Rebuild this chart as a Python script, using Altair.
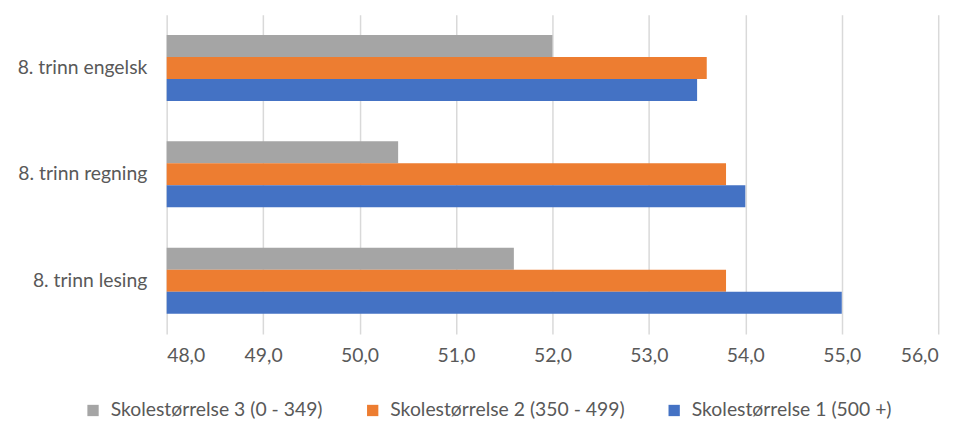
import altair as alt
import pandas as pd

categories = ["8. trinn engelsk", "8. trinn regning", "8. trinn lesing"]
series = ["Skolestørrelse 3 (0 - 349)", "Skolestørrelse 2 (350 - 499)", "Skolestørrelse 1 (500 +)"]
colors = ["#A5A5A5", "#ED7D31", "#4472C4"]
values_s3 = [52.0, 50.4, 51.6]
values_s2 = [53.6, 53.8, 53.8]
values_s1 = [53.5, 54.0, 55.0]
x_ticks = [48, 49, 50, 51, 52, 53, 54, 55, 56]
x_min, x_max = 48, 56

rows = []
for s, vals in zip(series, [values_s3, values_s2, values_s1]):
    for c, v in zip(categories, vals):
        rows.append({"kategori": c, "serie": s, "verdi": v})
df = pd.DataFrame(rows)

FONT = "Lato"
TXT = "#595959"
FS = 19.5

chart = alt.Chart(df).mark_bar().encode(
    y=alt.Y("kategori:N", sort=categories,
            scale=alt.Scale(paddingInner=0.38, paddingOuter=0.19),
            axis=alt.Axis(title=None, domain=False, ticks=False, labelPadding=20,
                          labelFontSize=FS, labelColor=TXT, labelFont=FONT, labelLimit=300)),
    yOffset=alt.YOffset("serie:N", sort=series, scale=alt.Scale(paddingInner=0, paddingOuter=0)),
    x=alt.X("verdi:Q", scale=alt.Scale(domain=[x_min, x_max], nice=False, zero=False),
            axis=alt.Axis(title=None, values=x_ticks, domain=False, ticks=False,
                          labelExpr="replace(format(datum.value, '.1f'), '.', ',')",
                          labelPadding=13, labelFontSize=FS, labelColor=TXT, labelFont=FONT,
                          gridColor="#D9D9D9", gridWidth=1.5)),
    x2=alt.datum(x_min),
    color=alt.Color("serie:N", scale=alt.Scale(domain=series, range=colors),
                    legend=alt.Legend(title=None, orient="none", direction="horizontal",
                                      legendX=-84, legendY=389, labelLimit=400,
                                      symbolType="square", symbolSize=130, symbolStrokeWidth=0,
                                      labelFontSize=FS, labelColor=TXT, labelFont=FONT,
                                      columnPadding=40, labelOffset=8)),
).properties(
    width=778, height=322,
    autosize=alt.AutoSizeParams(type="none"),
    padding={"left": 160, "top": 5, "right": 25, "bottom": 86},
).configure_view(stroke=None).configure_axisY(grid=False)

chart.save("out.html", embed_options={"renderer": "svg", "actions": False})
